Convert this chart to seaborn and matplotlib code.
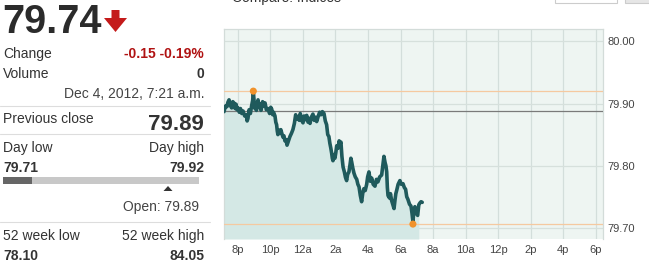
import matplotlib
matplotlib.use("Agg")
import matplotlib.pyplot as plt
import seaborn as sns
import pandas as pd
from matplotlib.patches import Rectangle, Polygon
from matplotlib.lines import Line2D

# ---------------- data ----------------
# hours relative to midnight Dec 4, 2012 (negative = Dec 3 evening)
hours = [-4.84, -4.75, -4.66, -4.60, -4.53, -4.45, -4.37, -4.30, -4.23, -4.16, -4.10,
         -4.04, -3.98, -3.90, -3.83, -3.75, -3.67, -3.57, -3.47, -3.42, -3.37, -3.30,
         -3.22, -3.14, -3.08, -3.04, -2.98, -2.94, -2.90, -2.85, -2.80, -2.75, -2.70,
         -2.62, -2.57, -2.53, -2.47, -2.40, -2.32, -2.24, -2.14, -2.04, -1.97, -1.91,
         -1.85, -1.80, -1.71, -1.66, -1.61, -1.57, -1.53, -1.47, -1.40, -1.35, -1.30,
         -1.22, -1.16, -1.10, -1.03, -0.97, -0.93, -0.86, -0.79, -0.70, -0.61, -0.52,
         -0.44, -0.37, -0.30, -0.22, -0.16, -0.11, -0.05, 0.01, 0.08, 0.15, 0.24,
         0.32, 0.38, 0.44, 0.52, 0.62, 0.70, 0.78, 0.85, 0.95, 1.03, 1.11,
         1.20, 1.30, 1.38, 1.46, 1.53, 1.60, 1.66, 1.72, 1.77, 1.81, 1.85,
         1.92, 1.97, 2.02, 2.08, 2.16, 2.23, 2.29, 2.34, 2.40, 2.47, 2.55,
         2.62, 2.69, 2.75, 2.83, 2.90, 2.95, 3.00, 3.07, 3.14, 3.22, 3.31,
         3.38, 3.45, 3.53, 3.61, 3.68, 3.75, 3.83, 3.92, 3.98, 4.06, 4.14,
         4.23, 4.32, 4.43, 4.52, 4.61, 4.72, 4.84, 4.91, 4.98, 5.05, 5.10,
         5.15, 5.19, 5.23, 5.32, 5.38, 5.45, 5.52, 5.60, 5.66, 5.71, 5.76,
         5.85, 5.96, 6.05, 6.15, 6.23, 6.31, 6.38, 6.45, 6.55, 6.64, 6.70,
         6.76, 6.82, 6.88, 6.95, 7.00, 7.05, 7.12, 7.19, 7.26, 7.33]
prices = [79.887, 79.896, 79.895, 79.902, 79.906, 79.897, 79.893, 79.903, 79.901, 79.892, 79.899,
          79.890, 79.893, 79.886, 79.892, 79.884, 79.888, 79.880, 79.882, 79.872, 79.876, 79.890,
          79.884, 79.897, 79.905, 79.920, 79.900, 79.892, 79.899, 79.889, 79.897, 79.906, 79.895,
          79.899, 79.889, 79.894, 79.903, 79.896, 79.901, 79.890, 79.892, 79.884, 79.894, 79.891,
          79.882, 79.886, 79.880, 79.870, 79.866, 79.856, 79.850, 79.857, 79.852, 79.858, 79.853,
          79.846, 79.848, 79.840, 79.842, 79.833, 79.836, 79.841, 79.847, 79.852, 79.858, 79.868,
          79.882, 79.875, 79.879, 79.873, 79.884, 79.879, 79.872, 79.869, 79.880, 79.874, 79.881,
          79.870, 79.876, 79.868, 79.878, 79.883, 79.873, 79.878, 79.871, 79.880, 79.886, 79.882,
          79.887, 79.884, 79.872, 79.866, 79.850, 79.847, 79.836, 79.828, 79.820, 79.812, 79.808,
          79.818, 79.812, 79.820, 79.832, 79.828, 79.840, 79.835, 79.838, 79.815, 79.798, 79.790,
          79.781, 79.776, 79.786, 79.790, 79.802, 79.812, 79.806, 79.796, 79.788, 79.782, 79.778,
          79.770, 79.766, 79.752, 79.742, 79.756, 79.763, 79.760, 79.770, 79.782, 79.790, 79.775,
          79.780, 79.770, 79.767, 79.778, 79.774, 79.782, 79.785, 79.800, 79.815, 79.805, 79.800,
          79.790, 79.765, 79.752, 79.748, 79.755, 79.744, 79.738, 79.731, 79.745, 79.755, 79.760,
          79.770, 79.776, 79.770, 79.771, 79.765, 79.762, 79.750, 79.746, 79.738, 79.735, 79.724,
          79.710, 79.728, 79.734, 79.727, 79.722, 79.720, 79.737, 79.740, 79.742, 79.741]

high_time, high_price = -3.04, 79.920
low_time, low_price = 6.76, 79.706
prev_close_line = 79.888
fill_end_hour = 7.15

tick_hours = [-4, -2, 0, 2, 4, 6, 8, 10, 12, 14, 16, 18]
tick_labels = ["8p", "10p", "12a", "2a", "4a", "6a", "8a", "10a", "12p", "2p", "4p", "6p"]
y_ticks = [79.70, 79.80, 79.90, 80.00]
y_tick_labels = ["79.70", "79.80", "79.90", "80.00"]

last_price = "79.74"
change_txt = "-0.15 -0.19%"
volume_txt = "0"
date_txt = "Dec 4, 2012, 7:21 a.m."
prev_close_txt = "79.89"
day_low_txt, day_high_txt = "79.71", "79.92"
open_txt = "Open: 79.89"
wk_low_txt, wk_high_txt = "78.10", "84.05"

# ---------------- figure ----------------
W, H = 649, 265
sns.set_style("white")
plt.rcParams["font.family"] = ["Liberation Sans", "DejaVu Sans"]
fig = plt.figure(figsize=(W / 100, H / 100), dpi=100)
fig.patch.set_facecolor("white")


def fx(x):
    return x / W


def fy(y):
    return 1 - y / H


def ftext(x, y, s, size=10, ha="left", weight="normal", color="#333333"):
    fig.text(fx(x), fy(y), s, fontsize=size, ha=ha, va="baseline",
             fontweight=weight, color=color)


def hline(y, x0=0, x1=210, color="#dddddd"):
    fig.add_artist(Line2D([fx(x0), fx(x1)], [fy(y), fy(y)], color=color, lw=0.8,
                          transform=fig.transFigure))


# left panel
ftext(2, 33, last_price, size=28.5, weight="bold", color="#2b2b2b")
arrow = Polygon([(fx(111.5), fy(10)), (fx(119.5), fy(10)), (fx(119.5), fy(18)),
                 (fx(127), fy(18)), (fx(115.5), fy(32)), (fx(104), fy(18)),
                 (fx(111.5), fy(18))], closed=True, transform=fig.transFigure,
                facecolor="#c41a1a", edgecolor="none")
fig.add_artist(arrow)

ftext(3, 58, "Change")
ftext(204, 58, change_txt, ha="right", weight="bold", color="#b01212")
ftext(3, 78, "Volume")
ftext(204, 78, volume_txt, ha="right", weight="bold")
ftext(204, 98, date_txt, ha="right", color="#444444")
hline(106)
ftext(3, 123, "Previous close")
ftext(204, 130, prev_close_txt, ha="right", weight="bold", size=16)
hline(134)
ftext(3, 152, "Day low")
ftext(204, 152, "Day high", ha="right")
ftext(3, 172, day_low_txt, weight="bold")
ftext(204, 172, day_high_txt, ha="right", weight="bold")
fig.add_artist(Rectangle((fx(3), fy(184)), fx(196), 7 / H, transform=fig.transFigure,
                         facecolor="#c8c8c8", edgecolor="none"))
fig.add_artist(Rectangle((fx(3), fy(184)), fx(29), 7 / H, transform=fig.transFigure,
                         facecolor="#666666", edgecolor="none"))
fig.add_artist(Polygon([(fx(163.5), fy(191)), (fx(172.5), fy(191)), (fx(168), fy(186))],
                       closed=True, transform=fig.transFigure, facecolor="#333333",
                       edgecolor="none"))
ftext(199, 211, open_txt, ha="right", color="#444444")
hline(222)
ftext(3, 240, "52 week low")
ftext(204, 240, "52 week high", ha="right")
ftext(3, 260, wk_low_txt, weight="bold")
ftext(204, 260, wk_high_txt, ha="right", weight="bold")

# cut-off header text and buttons at top (cropped in the reference too)
fig.text(fx(232), fy(2), "Compare: Indices", fontsize=10, ha="left", va="baseline",
         color="#333333")
fig.add_artist(Rectangle((fx(555), fy(3)), fx(62), 5 / H, transform=fig.transFigure,
                         facecolor="white", edgecolor="#cccccc", lw=0.8))
fig.add_artist(Rectangle((fx(625), fy(3)), fx(30), 5 / H, transform=fig.transFigure,
                         facecolor="#e6e6e6", edgecolor="#cccccc", lw=0.8))

# ---------------- chart ----------------
ax = fig.add_axes([fx(224), fy(239), fx(603 - 224), (239 - 29) / H])
ax.set_facecolor("#eef5f2")
df = pd.DataFrame({"hour": hours, "price": prices})

ax.set_xlim(-4.84, 18.43)
ax.set_ylim(79.682, 80.020)

for t in tick_hours:
    ax.axvline(t, color="#d3dedb", lw=0.9, zorder=1)
for v in y_ticks:
    ax.axhline(v, color="#d6e0dc", lw=0.9, zorder=1)

fill_df = df[df["hour"] <= fill_end_hour]
ax.fill_between(fill_df["hour"], fill_df["price"], 79.682, color="#d4e8e5", lw=0, zorder=2)
ax.axhline(high_price, color="#f5c9a0", lw=0.9, zorder=3)
ax.axhline(low_price, color="#f5c9a0", lw=0.9, zorder=3)
ax.axhline(prev_close_line, color="#7a7a7a", lw=0.9, zorder=3)

sns.lineplot(data=df, x="hour", y="price", ax=ax, color="#1f5a5c", lw=2.6,
             estimator=None, sort=False, zorder=4)
sns.scatterplot(x=[high_time, low_time], y=[high_price, low_price], ax=ax,
                color="#f0922b", s=26, edgecolor="none", zorder=5)

ax.set_xticks(tick_hours)
ax.set_xticklabels(tick_labels)
ax.set_yticks(y_ticks)
ax.set_yticklabels(y_tick_labels)
ax.yaxis.tick_right()
ax.tick_params(axis="both", length=0, labelsize=8, labelcolor="#444444")
ax.tick_params(axis="x", pad=4)
ax.tick_params(axis="y", pad=3)
ax.set_xlabel("")
ax.set_ylabel("")
for s in ["left", "top", "right"]:
    ax.spines[s].set_color("#d3dcd9")
    ax.spines[s].set_linewidth(0.9)
ax.spines["bottom"].set_visible(False)

fig.savefig("out.png", dpi=100)
